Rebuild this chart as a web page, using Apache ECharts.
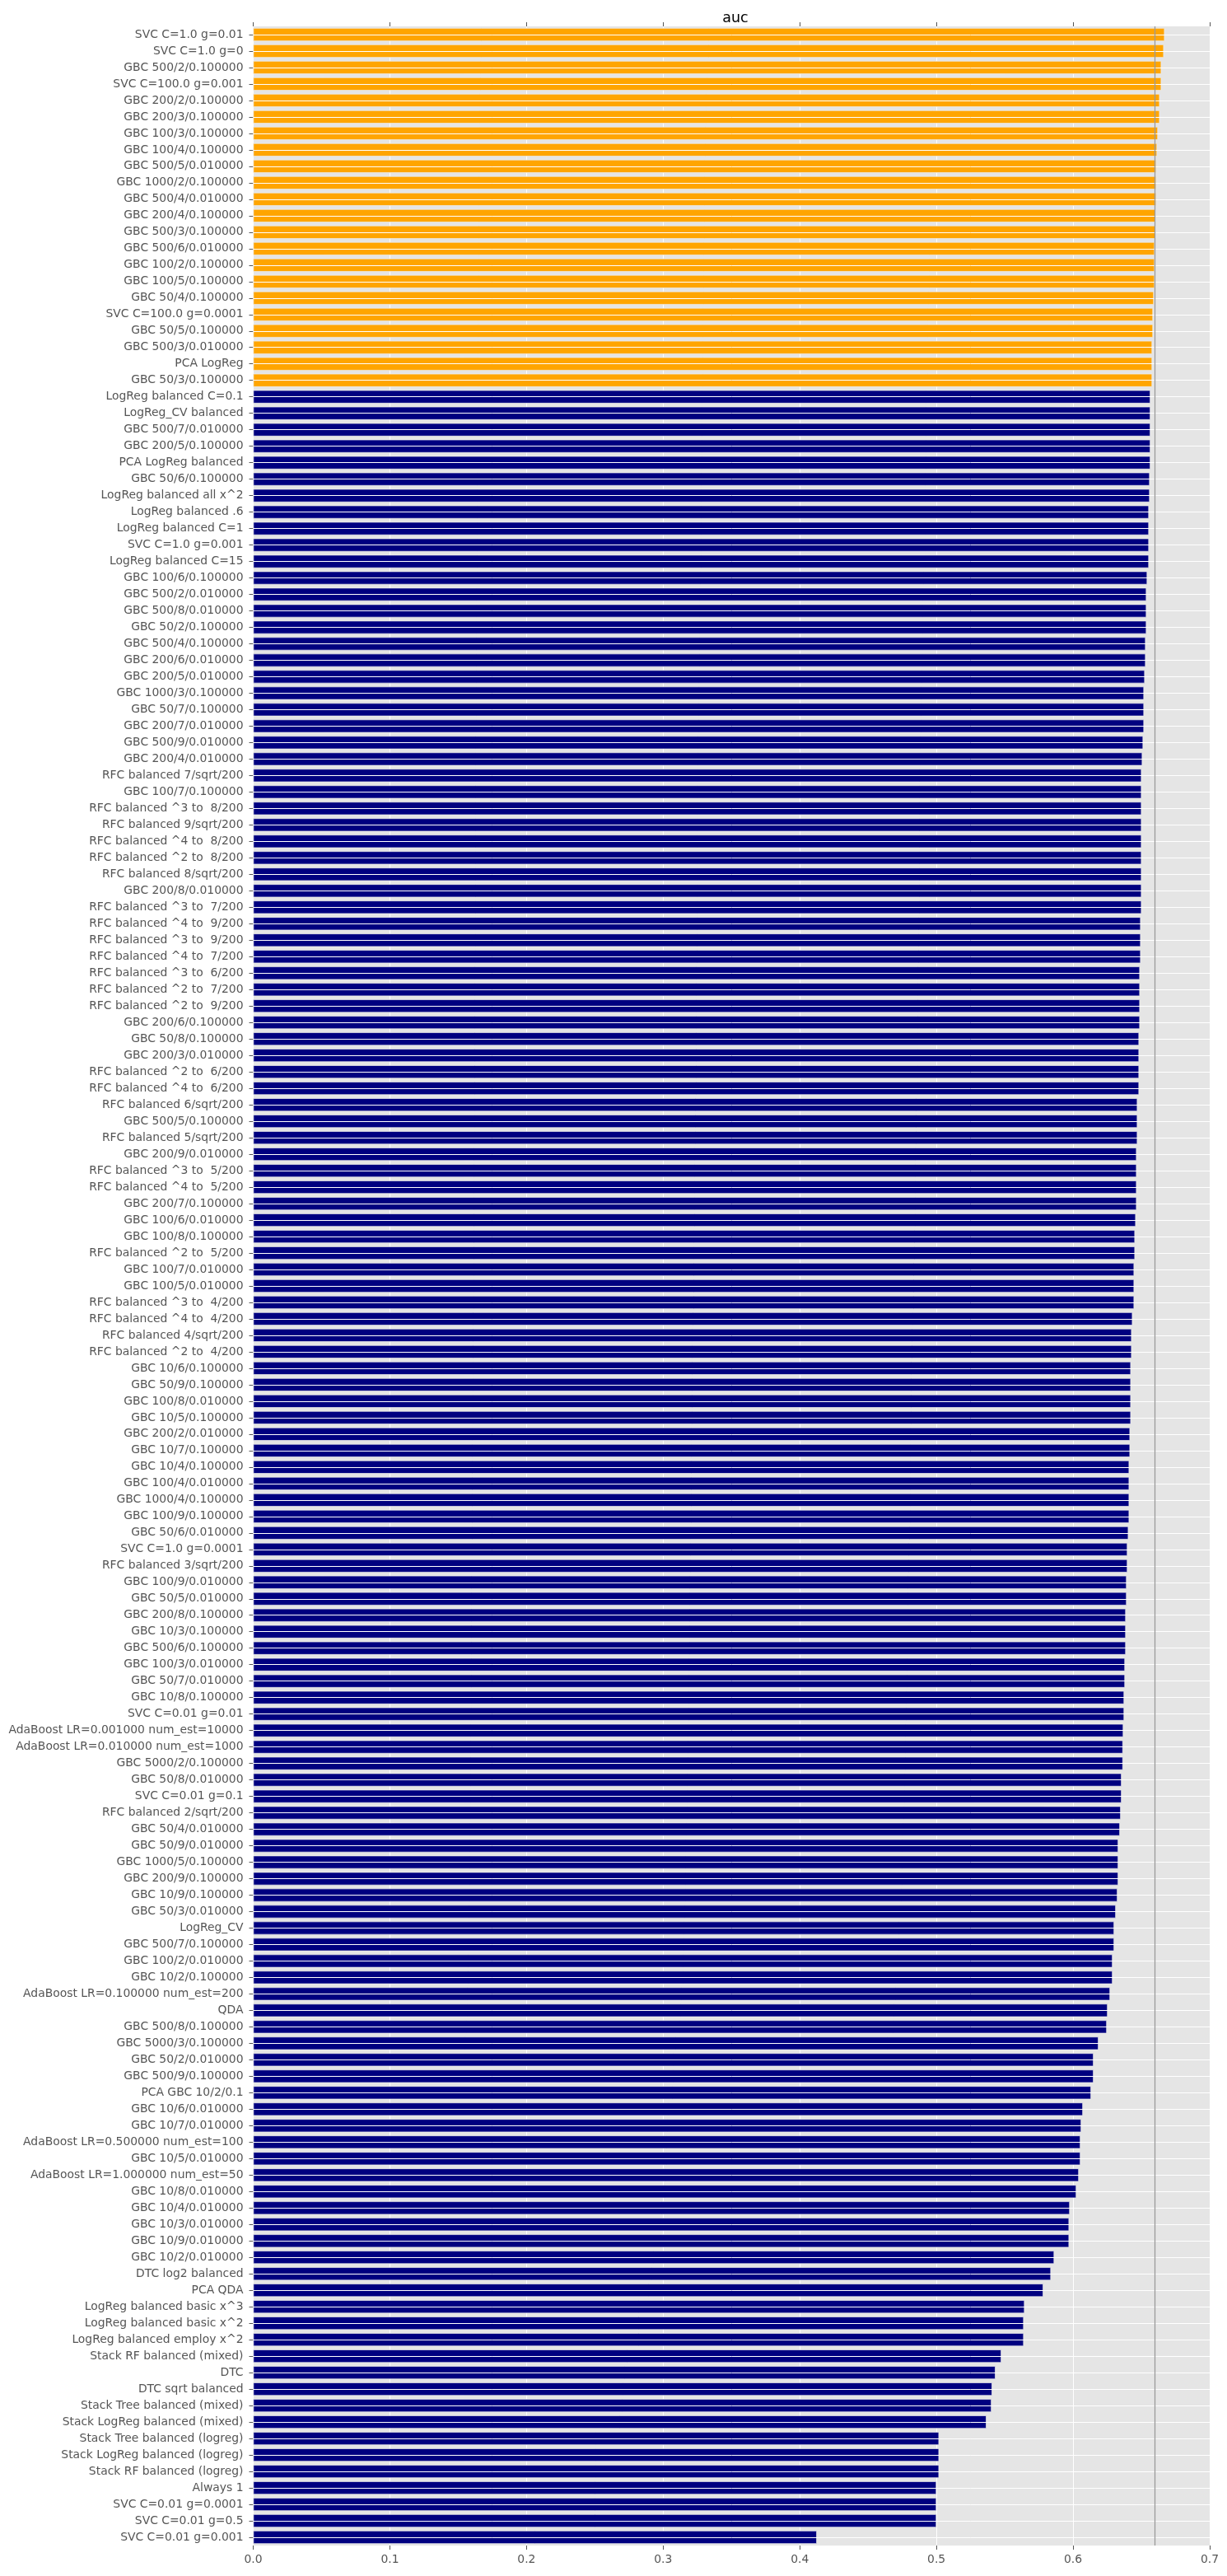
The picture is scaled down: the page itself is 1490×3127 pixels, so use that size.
<!DOCTYPE html>
<html>
<head>
<meta charset="utf-8">
<script src="https://cdn.jsdelivr.net/npm/echarts@6/dist/echarts.min.js"></script>
<style>
  html, body { margin: 0; padding: 0; background: #ffffff; }
  #chart { width: 1490px; height: 3127px; }
</style>
</head>
<body>
<div id="chart"></div>
<script>
const categories = [
  "SVC C=1.0 g=0.01", "SVC C=1.0 g=0", "GBC 500/2/0.100000", "SVC C=100.0 g=0.001",
  "GBC 200/2/0.100000", "GBC 200/3/0.100000", "GBC 100/3/0.100000", "GBC 100/4/0.100000",
  "GBC 500/5/0.010000", "GBC 1000/2/0.100000", "GBC 500/4/0.010000", "GBC 200/4/0.100000",
  "GBC 500/3/0.100000", "GBC 500/6/0.010000", "GBC 100/2/0.100000", "GBC 100/5/0.100000",
  "GBC 50/4/0.100000", "SVC C=100.0 g=0.0001", "GBC 50/5/0.100000", "GBC 500/3/0.010000",
  "PCA LogReg", "GBC 50/3/0.100000", "LogReg balanced C=0.1", "LogReg_CV balanced",
  "GBC 500/7/0.010000", "GBC 200/5/0.100000", "PCA LogReg balanced", "GBC 50/6/0.100000",
  "LogReg balanced all x^2", "LogReg balanced .6", "LogReg balanced C=1", "SVC C=1.0 g=0.001",
  "LogReg balanced C=15", "GBC 100/6/0.100000", "GBC 500/2/0.010000", "GBC 500/8/0.010000",
  "GBC 50/2/0.100000", "GBC 500/4/0.100000", "GBC 200/6/0.010000", "GBC 200/5/0.010000",
  "GBC 1000/3/0.100000", "GBC 50/7/0.100000", "GBC 200/7/0.010000", "GBC 500/9/0.010000",
  "GBC 200/4/0.010000", "RFC balanced 7/sqrt/200", "GBC 100/7/0.100000", "RFC balanced ^3 to  8/200",
  "RFC balanced 9/sqrt/200", "RFC balanced ^4 to  8/200", "RFC balanced ^2 to  8/200", "RFC balanced 8/sqrt/200",
  "GBC 200/8/0.010000", "RFC balanced ^3 to  7/200", "RFC balanced ^4 to  9/200", "RFC balanced ^3 to  9/200",
  "RFC balanced ^4 to  7/200", "RFC balanced ^3 to  6/200", "RFC balanced ^2 to  7/200", "RFC balanced ^2 to  9/200",
  "GBC 200/6/0.100000", "GBC 50/8/0.100000", "GBC 200/3/0.010000", "RFC balanced ^2 to  6/200",
  "RFC balanced ^4 to  6/200", "RFC balanced 6/sqrt/200", "GBC 500/5/0.100000", "RFC balanced 5/sqrt/200",
  "GBC 200/9/0.010000", "RFC balanced ^3 to  5/200", "RFC balanced ^4 to  5/200", "GBC 200/7/0.100000",
  "GBC 100/6/0.010000", "GBC 100/8/0.100000", "RFC balanced ^2 to  5/200", "GBC 100/7/0.010000",
  "GBC 100/5/0.010000", "RFC balanced ^3 to  4/200", "RFC balanced ^4 to  4/200", "RFC balanced 4/sqrt/200",
  "RFC balanced ^2 to  4/200", "GBC 10/6/0.100000", "GBC 50/9/0.100000", "GBC 100/8/0.010000",
  "GBC 10/5/0.100000", "GBC 200/2/0.010000", "GBC 10/7/0.100000", "GBC 10/4/0.100000",
  "GBC 100/4/0.010000", "GBC 1000/4/0.100000", "GBC 100/9/0.100000", "GBC 50/6/0.010000",
  "SVC C=1.0 g=0.0001", "RFC balanced 3/sqrt/200", "GBC 100/9/0.010000", "GBC 50/5/0.010000",
  "GBC 200/8/0.100000", "GBC 10/3/0.100000", "GBC 500/6/0.100000", "GBC 100/3/0.010000",
  "GBC 50/7/0.010000", "GBC 10/8/0.100000", "SVC C=0.01 g=0.01", "AdaBoost LR=0.001000 num_est=10000",
  "AdaBoost LR=0.010000 num_est=1000", "GBC 5000/2/0.100000", "GBC 50/8/0.010000", "SVC C=0.01 g=0.1",
  "RFC balanced 2/sqrt/200", "GBC 50/4/0.010000", "GBC 50/9/0.010000", "GBC 1000/5/0.100000",
  "GBC 200/9/0.100000", "GBC 10/9/0.100000", "GBC 50/3/0.010000", "LogReg_CV",
  "GBC 500/7/0.100000", "GBC 100/2/0.010000", "GBC 10/2/0.100000", "AdaBoost LR=0.100000 num_est=200",
  "QDA", "GBC 500/8/0.100000", "GBC 5000/3/0.100000", "GBC 50/2/0.010000",
  "GBC 500/9/0.100000", "PCA GBC 10/2/0.1", "GBC 10/6/0.010000", "GBC 10/7/0.010000",
  "AdaBoost LR=0.500000 num_est=100", "GBC 10/5/0.010000", "AdaBoost LR=1.000000 num_est=50", "GBC 10/8/0.010000",
  "GBC 10/4/0.010000", "GBC 10/3/0.010000", "GBC 10/9/0.010000", "GBC 10/2/0.010000",
  "DTC log2 balanced", "PCA QDA", "LogReg balanced basic x^3", "LogReg balanced basic x^2",
  "LogReg balanced employ x^2", "Stack RF balanced (mixed)", "DTC", "DTC sqrt balanced",
  "Stack Tree balanced (mixed)", "Stack LogReg balanced (mixed)", "Stack Tree balanced (logreg)", "Stack LogReg balanced (logreg)",
  "Stack RF balanced (logreg)", "Always 1", "SVC C=0.01 g=0.0001", "SVC C=0.01 g=0.5",
  "SVC C=0.01 g=0.001"
];

const aucValues = [
  0.6670, 0.6664, 0.6646, 0.6646, 0.6634, 0.6634, 0.6621, 0.6615,
  0.6609, 0.6609, 0.6609, 0.6603, 0.6603, 0.6597, 0.6597, 0.6597,
  0.6591, 0.6585, 0.6585, 0.6579, 0.6579, 0.6579, 0.6566, 0.6566,
  0.6566, 0.6566, 0.6566, 0.6561, 0.6561, 0.6555, 0.6555, 0.6555,
  0.6555, 0.6543, 0.6537, 0.6537, 0.6537, 0.6531, 0.6531, 0.6525,
  0.6519, 0.6519, 0.6519, 0.6513, 0.6507, 0.6501, 0.6501, 0.6501,
  0.6501, 0.6501, 0.6501, 0.6501, 0.6501, 0.6501, 0.6495, 0.6495,
  0.6495, 0.6489, 0.6489, 0.6489, 0.6489, 0.6483, 0.6483, 0.6483,
  0.6483, 0.6471, 0.6471, 0.6471, 0.6465, 0.6465, 0.6465, 0.6465,
  0.6459, 0.6453, 0.6453, 0.6447, 0.6447, 0.6447, 0.6435, 0.6429,
  0.6429, 0.6423, 0.6423, 0.6423, 0.6423, 0.6417, 0.6417, 0.6411,
  0.6411, 0.6411, 0.6411, 0.6405, 0.6398, 0.6398, 0.6392, 0.6392,
  0.6386, 0.6386, 0.6386, 0.6380, 0.6380, 0.6374, 0.6374, 0.6368,
  0.6365, 0.6365, 0.6355, 0.6355, 0.6349, 0.6343, 0.6331, 0.6331,
  0.6331, 0.6325, 0.6313, 0.6301, 0.6301, 0.6289, 0.6289, 0.6271,
  0.6253, 0.6247, 0.6186, 0.6150, 0.6150, 0.6132, 0.6072, 0.6060,
  0.6054, 0.6054, 0.6042, 0.6024, 0.5976, 0.5971, 0.5971, 0.5862,
  0.5838, 0.5782, 0.5645, 0.5639, 0.5639, 0.5475, 0.5432, 0.5408,
  0.5403, 0.5366, 0.5019, 0.5019, 0.5019, 0.5000, 0.5000, 0.5000,
  0.4125
];

const referenceValue = 0.657;
const xTickLabels = ["0.0", "0.1", "0.2", "0.3", "0.4", "0.5", "0.6", "0.7"];
const chartTitle = "auc";

const COLOR_ABOVE = "#FFA500";
const COLOR_BELOW = "#000080";
const FONT = "DejaVu Sans";
const TICK_COLOR = "#555555";

const chart = echarts.init(document.getElementById('chart'), null, { renderer: 'canvas' });

const barData = aucValues.map(v => ({
  value: v,
  itemStyle: { color: v > referenceValue ? COLOR_ABOVE : COLOR_BELOW }
}));

const centerLines = categories.map((c, i) => ({ yAxis: i }));

const option = {
  animation: false,
  backgroundColor: '#ffffff',
  title: {
    text: chartTitle,
    left: 888,
    top: 8,
    textAlign: 'center',
    textStyle: { fontFamily: FONT, fontSize: 17.5, fontWeight: 'normal', color: '#000000' }
  },
  grid: {
    left: 307.5,
    right: 21,
    top: 32,
    height: 3058,
    show: true,
    backgroundColor: '#E5E5E5',
    borderWidth: 0
  },
  xAxis: [
    {
      type: 'value', position: 'bottom', min: 0, max: 0.7, interval: 0.1,
      axisLine: { show: false },
      axisTick: { show: true, inside: false, length: 5, lineStyle: { color: TICK_COLOR } },
      axisLabel: {
        show: true, margin: 10, color: TICK_COLOR, fontFamily: FONT, fontSize: 13.9,
        formatter: (v) => xTickLabels[Math.round(v * 10)]
      },
      splitLine: { show: true, lineStyle: { color: '#FFFFFF', width: 1 } }
    },
    {
      type: 'value', position: 'top', min: 0, max: 0.7, interval: 0.1,
      axisLine: { show: false },
      axisTick: { show: true, inside: false, length: 5, lineStyle: { color: TICK_COLOR } },
      axisLabel: { show: false },
      splitLine: { show: false }
    }
  ],
  yAxis: [
    {
      type: 'category', inverse: true, data: categories, position: 'left',
      axisLine: { show: false },
      axisTick: { show: true, alignWithLabel: true, inside: false, length: 5, lineStyle: { color: TICK_COLOR } },
      axisLabel: { show: true, interval: 0, margin: 12, color: TICK_COLOR, fontFamily: FONT, fontSize: 13.9 },
      splitLine: { show: false }
    },
    {
      type: 'category', inverse: true, data: categories, position: 'right',
      axisLine: { show: false },
      axisTick: { show: true, alignWithLabel: true, inside: false, length: 5, lineStyle: { color: TICK_COLOR } },
      axisLabel: { show: false },
      splitLine: { show: false }
    }
  ],
  series: [
    {
      type: 'line',
      xAxisIndex: 0, yAxisIndex: 0,
      data: [],
      z: 1,
      silent: true,
      markLine: {
        silent: true,
        symbol: ['none', 'none'],
        label: { show: false },
        lineStyle: { color: '#FFFFFF', width: 1, type: 'solid' },
        data: centerLines
      }
    },
    {
      type: 'bar',
      xAxisIndex: 0, yAxisIndex: 0,
      data: barData,
      barWidth: '80%',
      z: 3,
      itemStyle: { borderColor: '#EEEEEE', borderWidth: 0.7 },
      markLine: {
        silent: true,
        symbol: ['none', 'none'],
        label: { show: false },
        lineStyle: { color: '#9A9A9A', width: 1.3, type: 'solid' },
        data: [{ xAxis: referenceValue }]
      }
    }
  ]
};

chart.setOption(option);
</script>
</body>
</html>
